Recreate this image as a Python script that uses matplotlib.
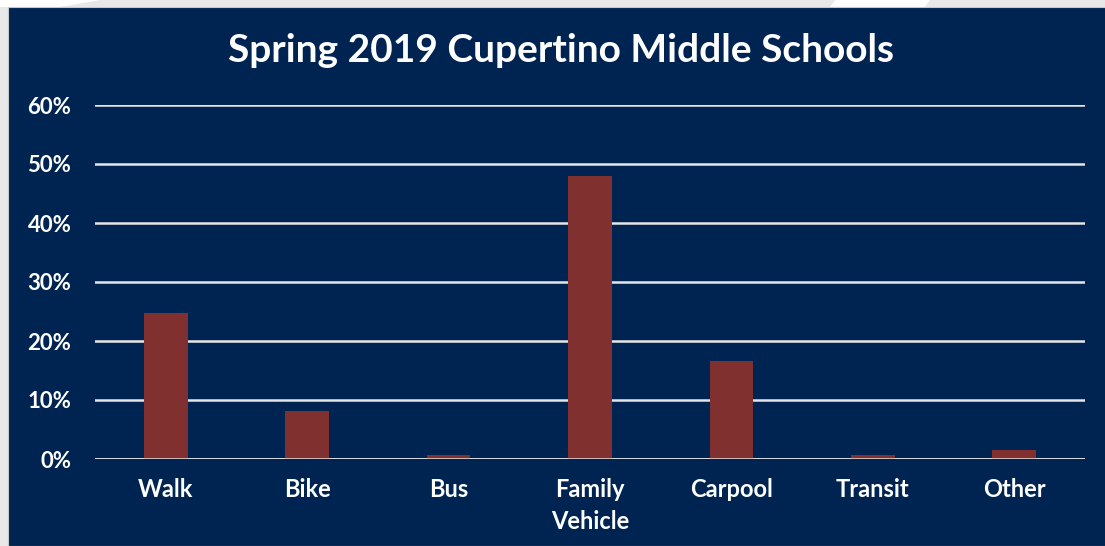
import matplotlib.pyplot as plt
from matplotlib.patches import Rectangle, Polygon

# data
modes = ["Walk", "Bike", "Bus", "Family\nVehicle", "Carpool", "Transit", "Other"]
shares = [24.7, 8.1, 0.6, 47.9, 16.6, 0.6, 1.6]
yticks = [0, 10, 20, 30, 40, 50, 60]

navy = "#002451"
bar_red = "#7f302f"
grid_col = "#e6e6e6"
plt.rcParams['font.family'] = ['Lato', 'DejaVu Sans']

W, H = 1105, 546
fig = plt.figure(figsize=(W / 100, H / 100), dpi=100)
fig.patch.set_facecolor("#e8e8e8")

# white background shapes peeking out at the top
fig.patches.append(Polygon([(0, 1), (100 / W, 1), (60 / W, 1 - 7 / H), (0, 1 - 7 / H)],
                           closed=True, transform=fig.transFigure, facecolor="white",
                           edgecolor="none", zorder=-3))
fig.patches.append(Polygon([(835 / W, 1), (930 / W, 1), (925 / W, 1 - 7 / H), (830 / W, 1 - 7 / H)],
                           closed=True, transform=fig.transFigure, facecolor="white",
                           edgecolor="none", zorder=-3))
# navy panel
fig.patches.append(Rectangle((8 / W, 0), 1, 1 - 7 / H, transform=fig.transFigure,
                             facecolor=navy, edgecolor="#c8c8c8", linewidth=0.8, zorder=-2))

ax = fig.add_axes([95 / W, (H - 459) / H, 990 / W, (459 - 105) / H])
ax.set_facecolor("none")
ax.bar(range(len(modes)), shares, width=0.31, color=bar_red, zorder=2)

ax.set_xlim(-0.5, len(modes) - 0.5)
ax.set_ylim(0, 60)
ax.set_yticks(yticks)
ax.set_yticklabels([f"{v}%" for v in yticks])
ax.set_xticks(range(len(modes)))
ax.set_xticklabels(modes, linespacing=1.45)
ax.tick_params(axis="both", length=0, colors="white", labelsize=16)
ax.tick_params(axis="y", pad=17)
ax.tick_params(axis="x", labelsize=17, pad=14)
for lbl in ax.get_xticklabels() + ax.get_yticklabels():
    lbl.set_fontweight("bold")

ax.yaxis.grid(True, color=grid_col, linewidth=1.8, zorder=0)
ax.set_axisbelow(True)
for s in ax.spines.values():
    s.set_visible(False)
ax.axhline(0, color=grid_col, linewidth=1.8, zorder=3)

fig.text(561 / W, 1 - 51 / H, "Spring 2019 Cupertino Middle Schools", color="white",
         fontsize=28, fontweight="bold", ha="center", va="center")

fig.savefig("out.png", dpi=100, facecolor=fig.get_facecolor())
